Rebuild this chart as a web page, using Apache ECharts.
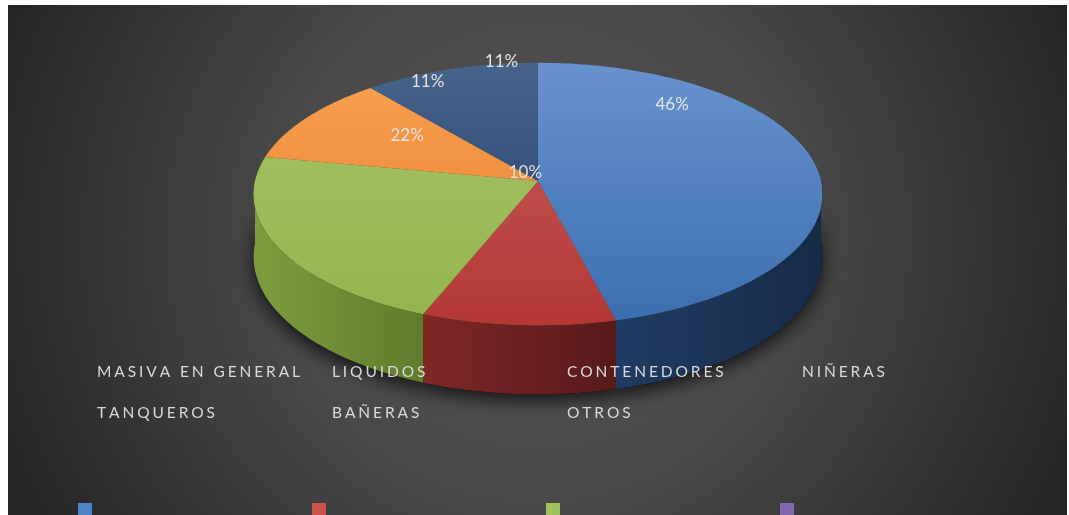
<!DOCTYPE html>
<html>
<head>
<meta charset="utf-8">
<script src="https://cdn.jsdelivr.net/npm/echarts@6/dist/echarts.min.js"></script>
<style>
  html, body { margin: 0; padding: 0; background: #ffffff; width: 1069px; height: 515px; overflow: hidden; }
  #chart { position: absolute; left: 8px; top: 5px; width: 1059px; height: 510px; }
</style>
</head>
<body>
<div id="chart"></div>
<script>
// Share of each cargo type (percent)
const categories = ['MASIVA EN GENERAL', 'LIQUIDOS', 'CONTENEDORES', 'NIÑERAS', 'TANQUEROS', 'BAÑERAS', 'OTROS'];
const shares = [46, 10, 22, 0, 0, 11, 11];

// Where each percentage label sits: [angle clockwise from 12 o'clock, fraction of radius]
const labelSpots = [[39, 0.80], [326, 0.08], [307, 0.60], null, null, [333, 0.93], [352, 1.02]];

// Palette: legend swatch, top face (light -> dark), side wall (left -> right)
const swatchColors = ['#4f84c6', '#cc524e', '#9fc157', '#8466ad', '#4bacc6', '#f79646', '#2c4d75'];
const topFaces = [
  ['#6a94cf', '#3a6daf'], ['#c65f5c', '#b33734'], ['#a7c569', '#92b44e'],
  ['#9a83bb', '#7a5e9e'], ['#6cc0d8', '#3c9cb8'], ['#f9a254', '#e57d28'], ['#4a668d', '#1d3b66']
];
const sideFaces = [
  ['#203c63', '#172b47'], ['#802727', '#581a1a'], ['#7e9d3f', '#5f7c2b'],
  ['#57406f', '#40305a'], ['#2f7a8e', '#22606f'], ['#a8621f', '#8a4f18'], ['#1a2f4d', '#14243b']
];

// Pie geometry (chart pixels)
const CX = 530, CY = 176, RX = 283, RY = 130, DEPTH = 62, PERSP = 0.1;

const total = shares.reduce((a, b) => a + b, 0);
const starts = shares.map((v, i) => shares.slice(0, i).reduce((a, b) => a + b, 0));

function project(deg, f, drop) {
  const t = deg * Math.PI / 180;
  const X = Math.sin(t) * f, Z = Math.cos(t) * f;
  const p = 1 / (1 + PERSP * Z);
  return [CX + RX * X * p, CY - RY * Z * p + drop * p];
}
function arc(a0, a1, f, drop) {
  const pts = [];
  const n = Math.max(2, Math.ceil(a1 - a0));
  for (let k = 0; k <= n; k++) pts.push(project(a0 + (a1 - a0) * k / n, f, drop));
  return pts;
}

function makeRender(i) {
  return function (params, api) {
    const s = api.value(0), v = api.value(1);
    if (!(v > 0)) return null;
    const a0 = s / total * 360, a1 = (s + v) / total * 360;
    const children = [];
    // front wall, only where the rim faces the viewer
    const b0 = Math.max(a0, 90), b1 = Math.min(a1, 270);
    if (b1 > b0) {
      const wall = arc(b0, b1, 1, 0).concat(arc(b0, b1, 1, DEPTH).reverse());
      children.push({
        type: 'polygon', z2: 1, silent: true, shape: { points: wall },
        style: { fill: '#000', shadowBlur: 18, shadowColor: 'rgba(0,0,0,0.75)', shadowOffsetY: 6 }
      });
      children.push({
        type: 'polygon', z2: 2, shape: { points: wall },
        style: {
          fill: new echarts.graphic.LinearGradient(0, 0, 1, 0, [
            { offset: 0, color: sideFaces[i][0] }, { offset: 1, color: sideFaces[i][1] }
          ])
        }
      });
    }
    // top face
    const top = [project(0, 0, 0)].concat(arc(a0, a1, 1, 0));
    children.push({
      type: 'polygon', z2: 3, shape: { points: top },
      style: {
        fill: new echarts.graphic.LinearGradient(0, CY - RY, 0, CY + RY + 20, [
          { offset: 0, color: topFaces[i][0] }, { offset: 1, color: topFaces[i][1] }
        ], true)
      }
    });
    const spot = labelSpots[i];
    if (spot) {
      const [lx, ly] = project(spot[0], spot[1], 0);
      children.push({
        type: 'text', z2: 10, silent: true,
        style: {
          text: Math.round(v / total * 100) + '%', x: lx, y: ly,
          align: 'center', verticalAlign: 'middle',
          fill: '#e2e2e2', fontSize: 17, fontFamily: 'Lato'
        }
      });
    }
    return { type: 'group', children };
  };
}

const chart = echarts.init(document.getElementById('chart'));
chart.setOption({
  animation: false,
  graphic: [{
    type: 'rect', z: -10, silent: true,
    shape: { x: 0, y: 0, width: 1059, height: 510 },
    style: {
      fill: new echarts.graphic.RadialGradient(530, 230, 580, [
        { offset: 0, color: '#525252' }, { offset: 0.45, color: '#494949' }, { offset: 1, color: '#252525' }
      ], true)
    }
  }],
  legend: [
    {
      data: categories, left: 84, top: 351, width: 940, padding: 0,
      icon: 'rect', itemWidth: 0, itemHeight: 0, itemGap: 10, selectedMode: false,
      formatter: n => n.split('').join('\u2009\u200A'),
      textStyle: { color: '#d9d9d9', fontSize: 15.5, fontFamily: 'Lato', lineHeight: 31, width: 220, overflow: 'none' }
    },
    {
      data: categories, left: 70, top: 498, width: 800, padding: 0,
      icon: 'rect', itemWidth: 14, itemHeight: 14, itemGap: 220, selectedMode: false,
      formatter: () => '',
      textStyle: { fontSize: 1 }
    }
  ],
  series: categories.map((name, i) => ({
    type: 'custom', name, coordinateSystem: 'none',
    itemStyle: { color: swatchColors[i] },
    data: [[starts[i], shares[i]]],
    renderItem: makeRender(i)
  }))
});
</script>
</body>
</html>
